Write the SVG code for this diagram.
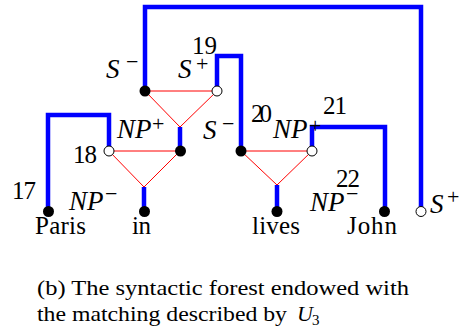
<svg xmlns="http://www.w3.org/2000/svg" width="466" height="330" viewBox="0 0 466 330">
<style>
.b{fill:none;stroke:#0000ff;stroke-width:4.5;stroke-linecap:butt;stroke-linejoin:miter}
.r{fill:none;stroke:#ff0000;stroke-width:1}
.f{fill:#000}
.o{fill:#fff;stroke:#000;stroke-width:1}
text{font-family:"Liberation Serif","Times New Roman",serif;fill:#000}
.t{font-size:25px}
.i{font-size:27px;font-style:italic}
.s{font-size:22px}
.c{font-size:22px}
</style>
<rect width="466" height="330" fill="#fff"/>
<g id="connectors">
<polyline class="b" points="145,91 145,7 421,7 421,211"/>
<polyline class="b" points="217,91 217,56 241,56 241,151"/>
<line class="b" x1="180" y1="127" x2="180" y2="151"/>
<polyline class="b" points="109,151 109,115 48,115 48,211"/>
<line class="b" x1="144" y1="187" x2="144" y2="211"/>
<line class="b" x1="277" y1="185" x2="277" y2="211"/>
<polyline class="b" points="312,151 312,127 385,127 385,211"/>
</g>
<g id="tri1"><polygon class="r" points="145,91 217,91 180,127"/></g>
<g id="tri2"><polygon class="r" points="109,151 180,151 144,187"/></g>
<g id="tri3"><polygon class="r" points="241,151 312,151 277,185"/></g>
<g id="n-s-minus-1"><circle class="f" cx="145" cy="91" r="5.5"/></g>
<g id="n-s-plus-19"><circle class="o" cx="217" cy="91" r="5"/></g>
<g id="n-np-plus"><circle class="f" cx="180.5" cy="151" r="5.5"/></g>
<g id="n-18"><circle class="o" cx="109" cy="151" r="5"/></g>
<g id="n-s-minus-20"><circle class="f" cx="241" cy="151" r="5.5"/></g>
<g id="n-np-plus-21"><circle class="o" cx="312" cy="151" r="5"/></g>
<g id="n-paris"><circle class="f" cx="48.5" cy="211.5" r="5.5"/></g>
<g id="n-in"><circle class="f" cx="144.5" cy="211.5" r="5.5"/></g>
<g id="n-lives"><circle class="f" cx="277" cy="211.5" r="5.5"/></g>
<g id="n-john"><circle class="f" cx="384.5" cy="211.5" r="5.5"/></g>
<g id="n-s-plus-right"><circle class="o" cx="421" cy="211.5" r="5"/></g>
<g id="labels">
<text class="i" x="106" y="78">S</text><text class="s" x="126" y="69">−</text>
<text class="i" x="178" y="78">S</text><text class="s" x="196" y="71">+</text>
<text class="t" x="192" y="54" textLength="25">19</text>
<text class="i" x="117" y="138">NP</text><text class="s" x="152" y="131">+</text>
<text class="t" x="73" y="163" textLength="24">18</text>
<text class="t" x="12" y="199" textLength="24">17</text>
<text class="i" x="69" y="210">NP</text><text class="s" x="105" y="201">−</text>
<text class="i" x="203" y="139">S</text><text class="s" x="222" y="131">−</text>
<text class="t" x="251" y="122" textLength="21">20</text>
<text class="i" x="273" y="138">NP</text><text class="s" x="309" y="133">+</text>
<text class="t" x="323" y="114" textLength="24">21</text>
<text class="t" x="336" y="187" textLength="24">22</text>
<text class="i" x="310" y="211">NP</text><text class="s" x="346" y="201">−</text>
<text class="i" x="430" y="213">S</text><text class="s" x="447" y="204">+</text>
<text class="t" x="35" y="234" textLength="51">Paris</text>
<text class="t" x="132" y="234" textLength="19">in</text>
<text class="t" x="252" y="234" textLength="48">lives</text>
<text class="t" x="347" y="234" textLength="50">John</text>
</g>
<g id="caption">
<text class="c" x="37" y="295" textLength="372" lengthAdjust="spacingAndGlyphs">(b) The syntactic forest endowed with</text>
<text class="c" x="37" y="321" textLength="250" lengthAdjust="spacingAndGlyphs">the matching described by</text>
<text class="c" x="297" y="321" font-style="italic">U</text>
<text x="312" y="325" font-size="15px">3</text>
</g>
</svg>
